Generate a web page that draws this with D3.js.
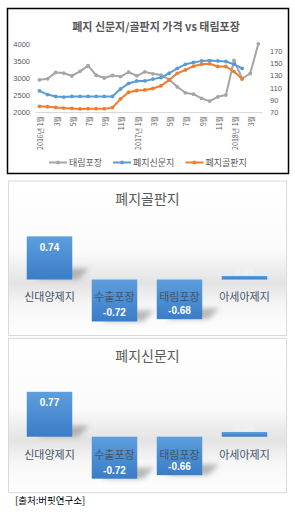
<!DOCTYPE html>
<html><head><meta charset="utf-8">
<script src="https://cdn.jsdelivr.net/npm/d3@7"></script>
<style>
html,body{margin:0;padding:0;background:#fff;}
svg{display:block;font-family:"Liberation Sans","Noto Sans CJK KR",sans-serif;}
.kr{font-family:"Noto Sans CJK KR",sans-serif;}
</style></head>
<body><svg id="c" width="295" height="519"></svg>
<script>
// ---------- data ----------
const months = ["2016년 1월","2월","3월","4월","5월","6월","7월","8월","9월","10월","11월","12월",
  "2017년 1월","2월","3월","4월","5월","6월","7월","8월","9월","10월","11월","12월",
  "2018년 1월","2월","3월","4월"];
const taerim = [2960,2990,3180,3160,3075,3210,3380,3095,3015,3088,3058,3190,3080,3195,3138,3100,2970,2756,2580,2540,2412,2335,2462,2512,3530,3000,3147,4020];
const newsprint = [105,99,96,95,96,96,96,96,96,96,108,117,121,121,124,126.5,133.5,141.5,148,151,153.5,154,153.5,152.5,148,141.5,null,null];
const corrugated = [80,79.5,78.2,77.2,76.6,75.8,76.2,76.2,76,77.9,92,102.8,105.6,106.5,108.8,113.3,122.4,133.4,138.8,145,148.2,148.7,144.4,144.4,136.2,124.1,null,null];
const leftTicks = [2000,2500,3000,3500,4000];
const rightTicks = [70,90,110,130,150,170];
const seriesNames = ["태림포장","폐지신문지","폐지골판지"];
const seriesColors = ["#a5a5a5","#5b9bd5","#ed7d31"];

const corrCats = ["신대양제지","수출포장","태림포장","아세아제지"];
const corrVals = [0.74,-0.72,-0.68,0.06];
const newsVals = [0.77,-0.72,-0.66,0.08];
const panelTitles = ["폐지골판지","폐지신문지"];

const svg = d3.select("#c");
const defs = svg.append("defs");

// ---------- top chart ----------
svg.append("rect").attr("x",7.5).attr("y",8.5).attr("width",281).attr("height",165)
  .attr("fill","#fff").attr("stroke","#000").attr("stroke-width",1.5);
svg.append("text").attr("class","kr").attr("x",156).attr("y",31).attr("text-anchor","middle")
  .attr("font-size",11).attr("font-weight","bold").attr("fill","#595959")
  .text("폐지 신문지/골판지 가격 vs 태림포장");

const idx = d3.range(months.length);
const x = d3.scaleBand().domain(idx).range([35.4,262.4]);
const yL = d3.scaleLinear().domain([2000,4000]).range([112.5,44.5]);
const yR = d3.scaleLinear().domain([70,180]).range([112.5,44.5]);
const cx = i => x(i) + x.bandwidth()/2;

// axis line
svg.append("line").attr("x1",35.4).attr("x2",262.4).attr("y1",112.5).attr("y2",112.5)
  .attr("stroke","#d9d9d9").attr("stroke-width",1);

const axL = d3.axisLeft(yL).tickValues(leftTicks).tickFormat(d3.format("d")).tickSize(0).tickPadding(0);
const gL = svg.append("g").attr("transform","translate(30,0)").call(axL);
gL.select(".domain").remove();
gL.selectAll("text").attr("font-size",7.5).attr("fill","#595959").attr("font-family","Liberation Sans");

const axR = d3.axisRight(yR).tickValues(rightTicks).tickFormat(d3.format("d")).tickSize(0).tickPadding(0);
const gR = svg.append("g").attr("transform","translate(270,0)").call(axR);
gR.select(".domain").remove();
gR.selectAll("text").attr("font-size",7.5).attr("fill","#595959").attr("font-family","Liberation Sans");

// x labels (every other month)
svg.append("g").selectAll("text").data(idx.filter(i=>i%2===0)).join("text")
  .attr("class","kr")
  .attr("transform",i=>`translate(${cx(i)+1.5},116) rotate(-90)`)
  .attr("text-anchor","end").attr("dy","0.35em")
  .attr("font-size",7).attr("fill","#595959").text(i=>months[i]);

function drawSeries(vals, yS, color){
  const pts = idx.map(i=>({i,v:vals[i]})).filter(d=>d.v!=null);
  svg.append("path").datum(pts)
    .attr("d", d3.line().x(d=>cx(d.i)).y(d=>yS(d.v)))
    .attr("fill","none").attr("stroke",color).attr("stroke-width",2).attr("stroke-linejoin","round");
  svg.append("g").selectAll("circle").data(pts).join("circle")
    .attr("cx",d=>cx(d.i)).attr("cy",d=>yS(d.v)).attr("r",1.9).attr("fill",color);
}
drawSeries(taerim, yL, seriesColors[0]);
drawSeries(newsprint, yR, seriesColors[1]);
drawSeries(corrugated, yR, seriesColors[2]);

// legend
const legX = [49,113,185.5];
seriesNames.forEach((n,i)=>{
  const g = svg.append("g").attr("transform",`translate(${legX[i]},162.5)`);
  g.append("line").attr("x1",0).attr("x2",18).attr("stroke",seriesColors[i]).attr("stroke-width",2);
  g.append("circle").attr("cx",9).attr("r",1.9).attr("fill",seriesColors[i]);
  g.append("text").attr("class","kr").attr("x",20).attr("dy","0.35em").attr("font-size",9)
    .attr("fill","#595959").text(n);
});

// ---------- bar panels ----------
const bg = defs.append("linearGradient").attr("id","pbg").attr("x1",0).attr("x2",0).attr("y1",0).attr("y2",1);
[[0,"#ffffff"],[0.45,"#fbfbfb"],[0.66,"#e3e3e3"],[0.8,"#f6f6f6"],[1,"#ffffff"]]
  .forEach(s=>bg.append("stop").attr("offset",s[0]).attr("stop-color",s[1]));
const bgr = defs.append("linearGradient").attr("id","barg").attr("x1",0).attr("x2",0).attr("y1",0).attr("y2",1);
[[0,"#5d9edb"],[1,"#3a7dc8"]].forEach(s=>bgr.append("stop").attr("offset",s[0]).attr("stop-color",s[1]));
const blur = defs.append("filter").attr("id","blur").attr("x","-50%").attr("y","-50%").attr("width","200%").attr("height","200%");
blur.append("feGaussianBlur").attr("stdDeviation",2.4);

const panels = [
  {top:181, h:154.5, zero:279.5, vals:corrVals, title:panelTitles[0]},
  {top:338.3, h:154.4, zero:436.7, vals:newsVals, title:panelTitles[1]}
];
const xb = d3.scaleBand().domain(corrCats).range([17,277]).paddingInner(0.3).paddingOuter(0.15);

panels.forEach(p=>{
  svg.append("rect").attr("x",8.5).attr("y",p.top).attr("width",278).attr("height",p.h)
    .attr("fill","url(#pbg)").attr("stroke","#d9d9d9").attr("stroke-width",1);
  svg.append("text").attr("class","kr").attr("x",147.5).attr("y",p.top+23)
    .attr("text-anchor","middle").attr("font-size",14).attr("fill","#595959").text(p.title);
  const yb = d3.scaleLinear().domain([-1,1]).range([p.zero+58.3,p.zero-58.3]);
  const data = corrCats.map((c,i)=>({c,v:p.vals[i]}));
  const w = xb.bandwidth();
  // shadows
  svg.append("g").selectAll("polygon").data(data.filter(d=>Math.abs(d.v)>0.2)).join("polygon")
    .attr("points",d=>{
      const x0 = xb(d.c), yb0 = Math.max(yb(d.v), yb(0));
      return [[x0+10,yb0],[x0+w+6,yb0],[x0+w+17,yb0-11],[x0+22,yb0-11]].map(q=>q.join(",")).join(" ");
    })
    .attr("fill","#8c8c8c").attr("opacity",0.6).attr("filter","url(#blur)");
  // bars
  svg.append("g").selectAll("rect").data(data).join("rect")
    .attr("x",d=>xb(d.c)).attr("width",w)
    .attr("y",d=>Math.min(yb(d.v),yb(0))).attr("height",d=>Math.abs(yb(d.v)-yb(0)))
    .attr("fill","url(#barg)");
  // category labels
  svg.append("g").selectAll("text").data(data).join("text").attr("class","kr")
    .attr("x",d=>xb(d.c)+w/2).attr("y",p.zero+18).attr("dy","0.35em")
    .attr("text-anchor","middle").attr("font-size",11).attr("fill","#44546a").text(d=>d.c);
  // value labels
  svg.append("g").selectAll("text").data(data).join("text")
    .attr("x",d=>xb(d.c)+w/2)
    .attr("y",d=>{
      const hgt = Math.abs(yb(d.v)-yb(0));
      if (hgt < 20) return yb(d.v)-5;
      return d.v>0 ? yb(d.v)+11 : yb(d.v)-8.5;
    })
    .attr("dy","0.35em").attr("text-anchor","middle").attr("font-size",10).attr("font-weight","bold")
    .attr("fill",d=>Math.abs(d.v)<0.2?"#f2f2f2":"#ffffff").text(d=>d.v.toFixed(2));
});

svg.append("text").attr("class","kr").attr("x",15).attr("y",501).attr("dy","0.35em")
  .attr("font-size",9.5).attr("fill","#000").text("[출처:버핏연구소]");
</script></body></html>
